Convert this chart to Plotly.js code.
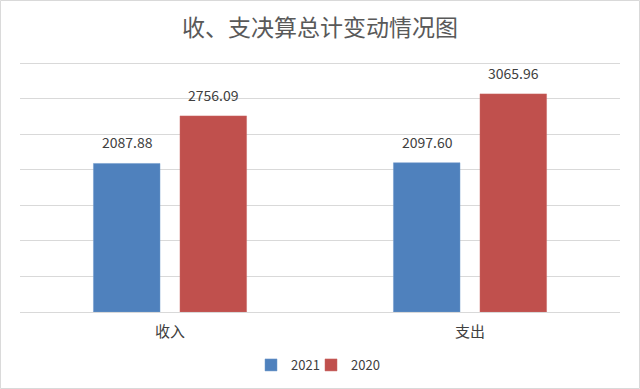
<!DOCTYPE html>
<html><head><meta charset="utf-8">
<script src="https://cdn.plot.ly/plotly-3.0.1.min.js"></script>
<style>html,body{margin:0;padding:0;background:#fff}#c{width:640px;height:389px}</style>
</head><body><div id="c"></div>
<script>
var categories = ['收入', '支出'];
var seriesNames = ['2021', '2020'];
var values2021 = [2087.88, 2097.60];
var values2020 = [2756.09, 3065.96];
var labels2021 = ['2087.88', '2097.60'];
var labels2020 = ['2756.09', '3065.96'];

var font = 'Noto Sans CJK SC, Microsoft YaHei, sans-serif';
var traces = [
  {type:'bar', name:seriesNames[0], x:categories, y:values2021, legend:'legend',
   marker:{color:'#4F81BD', line:{color:'#6F98CB', width:0.5}}, hoverinfo:'none'},
  {type:'bar', name:seriesNames[1], x:categories, y:values2020, legend:'legend2',
   marker:{color:'#C0504D', line:{color:'#C86663', width:0.5}}, hoverinfo:'none'}
];
var annotations = [];
var seriesVals = [values2021, values2020];
var seriesLabels = [labels2021, labels2020];
var shifts = [-43, 43];
for (var s = 0; s < 2; s++) {
  for (var i = 0; i < categories.length; i++) {
    annotations.push({x:categories[i], y:seriesVals[s][i], xref:'x', yref:'y', text:seriesLabels[s][i],
      showarrow:false, xanchor:'center', yanchor:'bottom', xshift:shifts[s], yshift:9,
      font:{size:14, color:'#404040', family:font}});
  }
}
var legFont = {size:13, color:'#404040', family:font};
var layout = {
  width:640, height:389,
  margin:{l:20, r:20, t:61, b:77},
  paper_bgcolor:'#fff', plot_bgcolor:'#fff',
  font:{family:font, color:'#595959'},
  title:{text:'收、支决算总计变动情况图', font:{size:23, color:'#595959', family:font}, x:0.5, xanchor:'center', y:1-28/389, yanchor:'middle'},
  barmode:'group', bargap:0.423, bargroupgap:0.231,
  xaxis:{showgrid:false, showline:true, linecolor:'#d9d9d9', linewidth:1, ticks:'', ticklabelstandoff:6, tickfont:{size:15, color:'#404040', family:font}, zeroline:false},
  yaxis:{range:[0,3500*251/249], tick0:0, dtick:500, showticklabels:false, showgrid:true, gridcolor:'#d9d9d9', gridwidth:1, zeroline:false, showline:false},
  showlegend:true,
  legend:{orientation:'h', x:(251-20)/600, xanchor:'left', yref:'container', y:(389-365)/389, yanchor:'middle', font:legFont, bgcolor:'rgba(0,0,0,0)'},
  legend2:{orientation:'h', x:(311-20)/600, xanchor:'left', yref:'container', y:(389-365)/389, yanchor:'middle', font:legFont, bgcolor:'rgba(0,0,0,0)'},
  annotations:annotations,
  shapes:[{type:'rect', xref:'paper', yref:'paper', x0:-20/600+0.0008, x1:620/600-0.0008, y0:-77/251+0.002, y1:1+61/251-0.002, line:{color:'#d9d9d9', width:1}}]
};
Plotly.newPlot('c', traces, layout, {displayModeBar:false, staticPlot:true});
</script></body></html>
